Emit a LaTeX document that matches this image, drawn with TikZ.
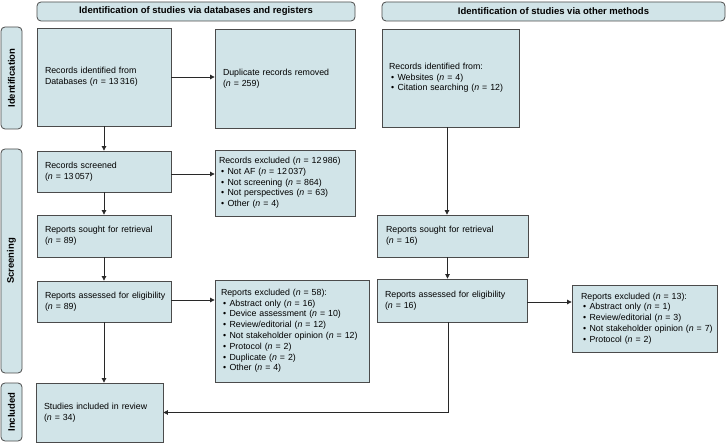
\documentclass[tikz,border=0pt]{standalone}
\usepackage{fontspec}
\setmainfont{Liberation Sans}
\usetikzlibrary{arrows.meta}
\definecolor{boxfill}{RGB}{209,228,232}
\definecolor{boxline}{RGB}{75,75,75}
\definecolor{arrline}{RGB}{40,40,40}
\newcommand{\nn}{\textit{n}}
\newcommand{\bul}{\hspace*{2pt}\textbullet\hspace{3.5pt}}
\newcommand{\lines}[1]{\begin{tabular}{@{}l@{}}#1\end{tabular}}
\tikzset{
  box/.style={draw=boxline, fill=boxfill, line width=0.8pt, inner sep=0pt,
    font=\fontsize{8.8}{10.8}\selectfont, align=left},
  hdr/.style={draw=boxline, fill=boxfill, line width=0.8pt, rounded corners=4pt,
    inner sep=0pt, font=\fontsize{9.5}{11}\selectfont\bfseries},
  side/.style={draw=boxline, fill=boxfill, line width=0.8pt, rounded corners=4pt,
    inner sep=0pt, rotate=90, font=\fontsize{9.5}{11}\selectfont\bfseries},
  arr/.style={draw=arrline, line width=0.7pt, -{Triangle[length=4.5pt,width=4.5pt]}}
}
\begin{document}
\begin{tikzpicture}[x=1pt,y=-1pt]
\useasboundingbox (0,0) rectangle (728,443);
% headers
\node[hdr, minimum width=318, minimum height=19] (hL) at (196,11.5) {Identification of studies via databases and registers};
\node[hdr, minimum width=343, minimum height=19] (hR) at (553.5,11.5) {Identification of studies via other methods};
% side labels
\node[side, minimum width=102, minimum height=21] (sI) at (11.5,78) {Identification};
\node[side, minimum width=224, minimum height=21] (sS) at (11.5,261) {Screening};
\node[side, minimum width=58, minimum height=21] (sN) at (11.5,412) {Included};
% left column
\node[box, minimum width=134, minimum height=98, text width=118] (db) at (104,77)
  {\lines{Records identified from\\Databases (\nn{} = 13\,316)}};
\node[box, minimum width=140, minimum height=99, text width=124] (dup) at (285,78.5)
  {\lines{Duplicate records removed\\(\nn{} = 259)}};
\node[box, minimum width=134, minimum height=41, text width=118] (scr) at (104,171.5)
  {\lines{Records screened\\(\nn{} = 13\,057)}};
\node[box, minimum width=140, minimum height=66, text width=132] (ex1) at (285,183)
  {\lines{Records excluded (\nn{} = 12\,986)\\\bul Not AF (\nn{} = 12\,037)\\\bul Not screening (\nn{} = 864)\\\bul Not perspectives (\nn{} = 63)\\\bul Other (\nn{} = 4)}};
\node[box, minimum width=134, minimum height=42, text width=118] (sou) at (104,236)
  {\lines{Reports sought for retrieval\\(\nn{} = 89)}};
\node[box, minimum width=134, minimum height=41, text width=118] (ass) at (104,301.5)
  {\lines{Reports assessed for eligibility\\(\nn{} = 89)}};
\node[box, minimum width=154, minimum height=102, text width=142] (ex2) at (292,331)
  {\lines{Reports excluded (\nn{} = 58):\\\bul Abstract only (\nn{} = 16)\\\bul Device assessment (\nn{} = 10)\\\bul Review/editorial (\nn{} = 12)\\\bul Not stakeholder opinion (\nn{} = 12)\\\bul Protocol (\nn{} = 2)\\\bul Duplicate (\nn{} = 2)\\\bul Other (\nn{} = 4)}};
\node[box, minimum width=127, minimum height=59, text width=111] (inc) at (99.5,412.5)
  {\lines{Studies included in review\\(\nn{} = 34)}};
% right column
\node[box, minimum width=137, minimum height=98, text width=123] (oth) at (450.5,78)
  {\lines{Records identified from:\\\bul Websites (\nn{} = 4)\\\bul Citation searching (\nn{} = 12)}};
\node[box, minimum width=151, minimum height=42, text width=133] (souR) at (452.5,236)
  {\lines{Reports sought for retrieval\\(\nn{} = 16)}};
\node[box, minimum width=150, minimum height=43, text width=134] (assR) at (452,300.5)
  {\lines{Reports assessed for eligibility\\(\nn{} = 16)}};
\node[box, minimum width=145, minimum height=67, text width=127] (exR) at (644.5,318.5)
  {\lines{Reports excluded (\nn{} = 13):\\\bul Abstract only (\nn{} = 1)\\\bul Review/editorial (\nn{} = 3)\\\bul Not stakeholder opinion (\nn{} = 7)\\\bul Protocol (\nn{} = 2)}};
% connectors
\draw[arr] (db.east) -- (db.east -| dup.west);
\draw[arr] (db.south) -- (scr.north);
\draw[arr] ([yshift=-2.5pt]scr.east) -- ([yshift=-2.5pt]scr.east -| ex1.west);
\draw[arr] (scr.south) -- (sou.north);
\draw[arr] (sou.south) -- (ass.north);
\draw[arr] ([yshift=1.5pt]ass.east) -- ([yshift=1.5pt]ass.east -| ex2.west);
\draw[arr] (ass.south) -- (ass.south |- inc.north);
\draw[arr] ([xshift=-3.5pt]oth.south) -- ([xshift=-3.5pt]oth.south |- souR.north);
\draw[arr] ([xshift=-5pt]souR.south) -- ([xshift=-5pt]souR.south |- assR.north);
\draw[arr] ([yshift=-1.5pt]assR.east) -- ([yshift=-1.5pt]assR.east -| exR.west);
\draw[arr] ([xshift=-4pt]assR.south) |- (inc.east);
\end{tikzpicture}
\end{document}
